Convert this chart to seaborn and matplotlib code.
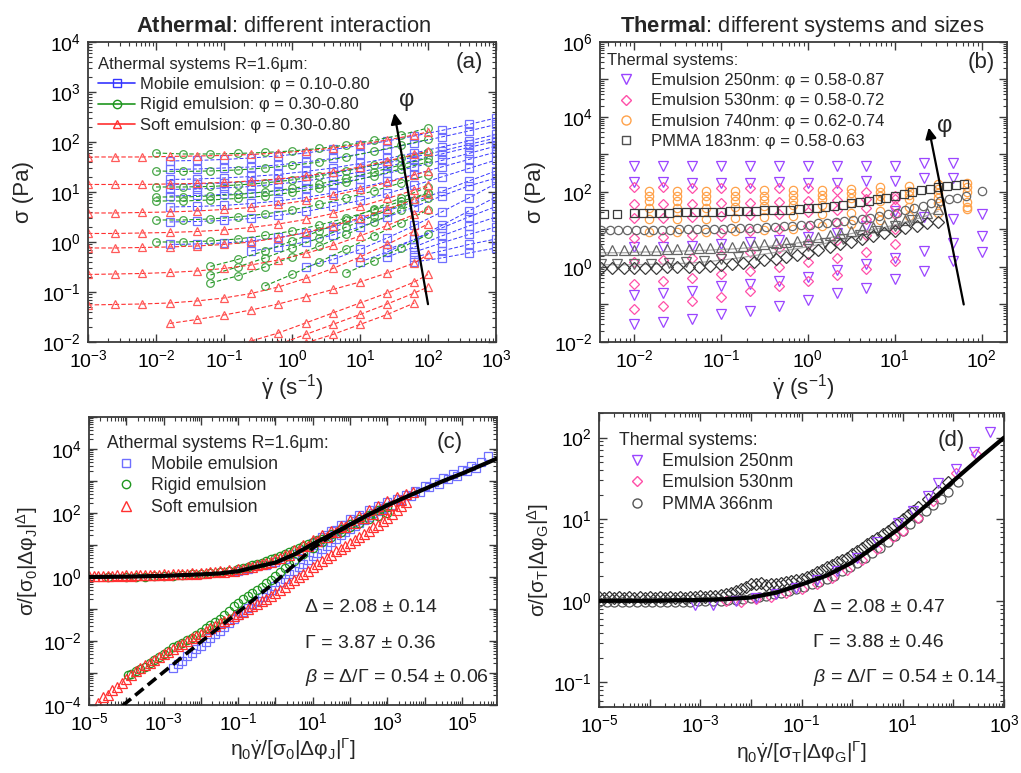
import numpy as np
import pandas as pd
import matplotlib
matplotlib.use('Agg')
import matplotlib.pyplot as plt
import matplotlib.ticker as mticker
from matplotlib.lines import Line2D
import seaborn as sns

N = np.nan

# ---------------- Panel (a): athermal flow curves (log10 values) ----------------
A_MOBILE_LOGRATE = [-1.8, -1.4, -1.0, -0.6, -0.2, 0.2, 0.6, 1.0, 1.4, 1.8, 2.2, 2.6, 3.0]
A_MOBILE_LOGSIGMA = [
    [1.62, 1.63, 1.65, 1.68, 1.72, 1.78, 1.85, 1.93, 2.02, 2.12, 2.23, 2.35, 2.48],
    [1.45, 1.46, 1.48, 1.50, 1.54, 1.60, 1.67, 1.76, 1.86, 1.98, 2.10, 2.22, 2.35],
    [1.25, 1.26, 1.28, 1.31, 1.35, 1.41, 1.48, 1.57, 1.67, 1.78, 1.90, 2.02, 2.15],
    [1.15, 1.16, 1.18, 1.21, 1.25, 1.31, 1.39, 1.48, 1.58, 1.70, 1.82, 1.95, 2.08],
    [1.05, 1.06, 1.08, 1.11, 1.16, 1.22, 1.30, 1.40, 1.51, 1.63, 1.76, 1.89, 2.02],
    [0.92, 0.93, 0.95, 0.98, 1.02, 1.08, 1.16, 1.26, 1.37, 1.50, 1.63, 1.77, 1.92],
    [0.70, 0.71, 0.73, 0.77, 0.82, 0.89, 0.98, 1.09, 1.21, 1.35, 1.50, 1.65, 1.80],
    [0.40, 0.41, 0.43, 0.47, 0.53, 0.61, 0.71, 0.83, 0.97, 1.13, 1.30, 1.47, 1.64],
    [-0.05, -0.04, -0.02, 0.02, 0.09, 0.18, 0.30, 0.45, 0.62, 0.81, 1.01, 1.22, 1.42],
    [N, N, N, -0.18, -0.10, 0.00, 0.14, 0.30, 0.50, 0.70, 0.92, 1.12, 1.28],
    [N, N, N, N, N, -0.50, -0.35, -0.15, 0.08, 0.33, 0.60, 0.88, 1.17],
    [N, N, N, N, N, N, N, -0.40, -0.20, 0.05, 0.33, 0.62, 0.90],
    [N, N, N, N, N, N, N, N, N, -0.40, -0.32, -0.22, -0.12],
    [N, N, N, N, N, N, N, N, N, -0.30, -0.18, -0.05, 0.06],
    [N, N, N, N, N, N, N, N, N, -0.20, -0.02, 0.15, 0.30],
    [N, N, N, N, N, N, N, N, -0.30, -0.10, 0.12, 0.32, 0.50],
    [N, N, N, N, N, N, N, N, -0.15, 0.05, 0.28, 0.50, 0.71],
]
A_RIGID_LOGRATE = [-2.0, -1.6, -1.2, -0.8, -0.4, 0.0, 0.4, 0.8, 1.2, 1.6, 2.0]
A_RIGID_LOGSIGMA = [
    [1.78, 1.76, 1.76, 1.77, 1.79, 1.82, 1.87, 1.94, 2.03, 2.14, 2.28],
    [1.42, 1.41, 1.42, 1.44, 1.48, 1.53, 1.60, 1.70, 1.81, 1.93, 2.05],
    [1.10, 1.10, 1.11, 1.14, 1.18, 1.24, 1.32, 1.42, 1.54, 1.67, 1.80],
    [0.90, 0.90, 0.92, 0.95, 1.00, 1.07, 1.16, 1.27, 1.40, 1.54, 1.68],
    [0.82, 0.82, 0.84, 0.87, 0.92, 0.99, 1.08, 1.19, 1.32, 1.46, 1.60],
    [0.44, 0.44, 0.46, 0.50, 0.56, 0.64, 0.75, 0.88, 1.02, 1.18, 1.34],
    [0.00, 0.00, 0.02, 0.06, 0.13, 0.22, 0.34, 0.48, 0.64, 0.81, 0.98],
    [N, N, -0.49, -0.35, -0.18, 0.02, 0.22, 0.44, 0.66, 0.88, 1.10],
    [N, N, -0.66, -0.50, -0.32, -0.12, 0.08, 0.30, 0.52, 0.75, 0.98],
    [N, N, -0.82, -0.68, -0.50, -0.30, -0.08, 0.15, 0.40, 0.64, 0.88],
    [N, N, N, N, -0.88, -0.65, -0.40, -0.14, 0.12, 0.38, 0.64],
    [N, N, N, N, N, N, N, -0.62, -0.38, -0.12, 0.15],
]
A_SOFT_LOGRATE = [-3.0, -2.6, -2.2, -1.8, -1.4, -1.0, -0.6, -0.2, 0.2, 0.6, 1.0, 1.4, 1.8, 2.0]
A_SOFT_LOGSIGMA = [
    [1.70, 1.70, 1.70, 1.71, 1.72, 1.73, 1.75, 1.78, 1.82, 1.88, 1.95, 2.04, 2.14, 2.20],
    [1.15, 1.15, 1.15, 1.16, 1.17, 1.19, 1.22, 1.26, 1.32, 1.40, 1.50, 1.62, 1.75, 1.82],
    [0.58, 0.58, 0.59, 0.60, 0.62, 0.65, 0.69, 0.75, 0.83, 0.93, 1.05, 1.19, 1.34, 1.42],
    [0.17, 0.17, 0.18, 0.19, 0.21, 0.24, 0.29, 0.36, 0.45, 0.57, 0.71, 0.87, 1.04, 1.13],
    [-0.12, -0.12, -0.11, -0.10, -0.08, -0.05, 0.00, 0.08, 0.19, 0.32, 0.48, 0.66, 0.85, 0.95],
    [-0.65, -0.64, -0.63, -0.61, -0.58, -0.53, -0.46, -0.36, -0.23, -0.07, 0.12, 0.33, 0.55, 0.66],
    [-1.26, -1.25, -1.24, -1.22, -1.18, -1.12, -1.03, -0.90, -0.73, -0.53, -0.30, -0.05, 0.22, 0.36],
    [N, N, N, -1.63, -1.55, -1.46, -1.36, -1.24, -1.10, -0.95, -0.80, -0.62, -0.42, -0.25],
    [N, N, N, N, N, N, -1.98, -1.82, -1.62, -1.42, -1.22, -1.02, -0.80, -0.65],
    [N, N, N, N, N, N, N, -2.05, -1.85, -1.65, -1.45, -1.24, -1.02, -0.90],
    [N, N, N, N, N, N, N, N, -2.02, -1.85, -1.65, -1.45, -1.22, N],
]

# ---------------- Panel (b): thermal flow curves ----------------
B_E250_RATE = [0.01, 0.0215, 0.0464, 0.1, 0.215, 0.464, 1.0, 2.15, 4.64, 10.0, 21.5, 46.4, 100.0]
B_E250_LOGSIGMA = [
    [2.69, 2.69, 2.69, 2.69, 2.69, 2.69, 2.69, 2.69, 2.69, 2.70, 2.76, 2.76, N],
    [2.27, 2.26, 2.24, 2.25, 2.24, 2.26, 2.25, 2.25, 2.28, 2.30, 2.36, 2.38, N],
    [0.52, 0.52, 0.55, 0.60, 0.66, 0.72, 0.80, 0.90, 1.10, 1.50, 1.32, 1.27, 1.42],
    [-0.76, -0.70, -0.64, -0.51, -0.46, -0.37, -0.27, -0.08, 0.07, 0.25, 0.43, 0.63, 0.83],
    [-1.53, -1.47, -1.40, -1.26, -1.17, -1.04, -0.88, -0.70, -0.55, -0.33, -0.11, 0.16, 0.40],
]
B_E530_RATE = [0.01, 0.0215, 0.0464, 0.1, 0.215, 0.464, 1.0, 2.15, 4.64, 10.0]
B_E530_LOGSIGMA = [
    [2.12, 2.12, 2.11, 2.10, 2.10, 2.10, 2.10, 2.06, 2.00, 1.90],
    [1.67, 1.68, 1.68, 1.70, 1.70, 1.72, 1.75, 1.78, 1.80, 1.80],
    [1.30, 1.30, 1.32, 1.35, 1.38, 1.42, 1.46, 1.52, 1.57, 1.62],
    [0.78, 0.80, 0.85, 0.90, 0.95, 1.00, 1.08, 1.18, 1.28, 1.40],
    [0.12, 0.18, 0.25, 0.32, 0.40, 0.50, 0.60, 0.72, 0.85, 1.00],
    [-0.46, -0.38, -0.30, -0.20, -0.10, 0.00, 0.12, 0.25, 0.40, 0.60],
    [-1.13, -1.04, -0.92, -0.80, -0.65, -0.52, -0.38, -0.22, -0.05, 0.15],
]
B_E740_RATE = [0.0147, 0.0316, 0.0681, 0.147, 0.316, 0.681, 1.47, 3.16, 6.81, 14.7, 31.6, 68.1]
B_E740_LOGSIGMA = [
    [2.03, 2.03, 2.03, 2.03, 2.04, 2.05, 2.06, 2.08, 2.12, 2.16, 2.20, 2.25],
    [1.90, 1.90, 1.90, 1.90, 1.90, 1.92, 1.93, 1.96, 2.00, 2.03, 2.07, 2.12],
    [1.76, 1.76, 1.76, 1.77, 1.78, 1.79, 1.80, 1.84, 1.88, 1.92, 1.96, 2.00],
    [1.58, 1.58, 1.58, 1.60, 1.62, 1.64, 1.66, 1.70, 1.76, 1.80, 1.84, 1.72],
    [1.27, 1.27, 1.28, 1.30, 1.32, 1.35, 1.40, 1.45, 1.50, 1.60, 1.70, 1.60],
    [0.92, 0.92, 0.93, 0.95, 0.98, 1.02, 1.08, 1.15, 1.25, 1.35, 1.45, 1.54],
]
B_PMMA_SQ_LOGRATE = [-2.34, -2.19, -2.0, -1.9, -1.8, -1.7, -1.6, -1.5, -1.4, -1.3, -1.2, -1.1, -1.0,
                     -0.9, -0.8, -0.7, -0.6, -0.5, -0.4, -0.3, -0.2, -0.1, 0.0, 0.1, 0.2, 0.3, 0.4,
                     0.5, 0.6, 0.7, 0.8, 0.9, 1.0, 1.1, 1.2, 1.3, 1.4, 1.5, 1.6, 1.7, 1.8]
B_PMMA_SQ_LOGSIGMA = [1.42, 1.42, 1.45, 1.45, 1.45, 1.45, 1.45, 1.46, 1.46, 1.46, 1.46, 1.47, 1.47,
                      1.48, 1.48, 1.49, 1.50, 1.51, 1.52, 1.52, 1.53, 1.55, 1.56, 1.58, 1.60, 1.63,
                      1.66, 1.70, 1.73, 1.76, 1.80, 1.85, 1.90, 1.95, 2.00, 2.04, 2.08, 2.12, 2.16,
                      2.19, 2.22]
B_PMMA_CI_LOGRATE = [-2.38, -2.28, -2.18, -2.08, -1.98, -1.88, -1.78, -1.68, -1.58, -1.48, -1.38,
                     -1.28, -1.18, -1.08, -0.98, -0.88, -0.78, -0.68, -0.58, -0.48, -0.38, -0.28,
                     -0.18, -0.08, 0.02, 0.12, 0.22, 0.32, 0.42, 0.52, 0.62, 0.72, 0.82, 0.92,
                     1.02, 1.12, 1.22, 1.32, 1.42, 1.52, 1.62, 1.72, 1.82, 2.0]
B_PMMA_CI_LOGSIGMA = [0.98, 0.98, 0.98, 0.98, 0.98, 0.98, 0.98, 0.99, 0.99, 1.00, 1.00, 1.01, 1.01,
                      1.02, 1.02, 1.03, 1.04, 1.05, 1.05, 1.06, 1.07, 1.09, 1.10, 1.12, 1.13, 1.16,
                      1.18, 1.20, 1.23, 1.25, 1.28, 1.31, 1.35, 1.40, 1.45, 1.51, 1.57, 1.63, 1.70,
                      1.75, 1.80, 1.85, 1.90, 2.03]
B_PMMA_TR_LOGRATE = [-2.38, -2.25, -2.12, -2.0, -1.87, -1.75, -1.62, -1.5, -1.37, -1.25, -1.12,
                     -1.0, -0.87, -0.75, -0.62, -0.5, -0.37, -0.25, -0.12, 0.0, 0.12, 0.25, 0.37,
                     0.5, 0.62, 0.75, 0.87, 1.0, 1.12, 1.25, 1.37, 1.5]
B_PMMA_TR_LOGSIGMA = [0.44, 0.44, 0.44, 0.45, 0.46, 0.46, 0.47, 0.48, 0.49, 0.50, 0.51, 0.53, 0.54,
                      0.56, 0.58, 0.60, 0.63, 0.66, 0.70, 0.74, 0.79, 0.84, 0.90, 0.95, 1.01, 1.06,
                      1.11, 1.18, 1.26, 1.34, 1.43, 1.55]
B_PMMA_DT_LOGRATE = [-2.38, -2.2, -2.0, -1.8, -1.6, -1.4, -1.2, -1.0, -0.8, -0.6, -0.4, -0.2,
                     0.0, 0.2, 0.4, 0.6, 0.8, 1.0, 1.2]
B_PMMA_DT_LOGSIGMA = [0.08, 0.08, 0.08, 0.09, 0.10, 0.12, 0.15, 0.20, 0.26, 0.33, 0.40, 0.48,
                      0.56, 0.65, 0.75, 0.85, 0.95, 1.10, 1.25]
B_PMMA_DI_LOGRATE = [-2.38, -2.25, -2.12, -2.0, -1.87, -1.75, -1.62, -1.5, -1.37, -1.25, -1.12,
                     -1.0, -0.87, -0.75, -0.62, -0.5, -0.37, -0.25, -0.12, 0.0, 0.12, 0.25, 0.37,
                     0.5, 0.62, 0.75, 0.87, 1.0, 1.12, 1.25, 1.37, 1.5]
B_PMMA_DI_LOGSIGMA = [-0.02, -0.02, -0.02, -0.02, -0.02, -0.02, -0.01, -0.01, 0.00, 0.01, 0.02,
                      0.05, 0.08, 0.11, 0.14, 0.18, 0.22, 0.27, 0.32, 0.38, 0.45, 0.52, 0.60,
                      0.67, 0.75, 0.83, 0.90, 0.97, 1.04, 1.10, 1.16, 1.21]

# ---------------- Panel (c): athermal master curve (log10 values) ----------------
C_FIT_UP_LOGX = [-5, -4, -3, -2, -1.5, -1, -0.5, 0, 0.5, 1, 1.5, 2, 2.5, 3, 3.5, 4, 4.5, 5, 5.5, 5.94]
C_FIT_UP_LOGY = [0.0, 0.01, 0.035, 0.08, 0.11, 0.18, 0.32, 0.45, 0.70, 1.03, 1.33, 1.64, 1.95,
                 2.24, 2.50, 2.75, 3.00, 3.23, 3.48, 3.70]
C_FIT_LO_LOGX = [-4.1, -3, -2, -1, 0, 1, 1.5, 2, 2.3]
C_FIT_LO_LOGY = [-4.02, -2.97, -2.03, -1.10, -0.15, 0.90, 1.30, 1.62, 1.82]

C_SOFT_UP_LOGX = [-5, -4.75, -4.5, -4.25, -4, -3.75, -3.5, -3.25, -3, -2.75, -2.5, -2.25, -2, -1.75,
                  -1.5, -1.25, -1, -0.75, -0.5, -0.25, 0, 0.25, 0.5, 0.75, 1, 1.25, 1.5, 1.75,
                  2, 2.25, 2.5, 2.75, 3, 3.25, 3.5, 3.7]
C_SOFT_UP_LOGY = [0.04, 0.03, 0.04, 0.05, 0.05, 0.06, 0.06, 0.07, 0.08, 0.09, 0.10, 0.11, 0.13, 0.15,
                  0.18, 0.21, 0.25, 0.30, 0.37, 0.45, 0.55, 0.70, 0.85, 1.00, 1.15, 1.30, 1.45, 1.60,
                  1.78, 1.92, 2.08, 2.22, 2.36, 2.50, 2.60, 2.65]
C_SOFT_UP2_LOGX = [-4.875, -4.625, -4.375, -4.125, -3.875, -3.625, -3.375, -3.125, -2.875, -2.625,
                   -2.375, -2.125, -1.875, -1.625, -1.375, -1.125, -0.875, -0.625, -0.375, -0.125,
                   0.125, 0.375, 0.625, 0.875, 1.125, 1.375, 1.625, 1.875, 2.125, 2.375, 2.625,
                   2.875, 3.125, 3.375]
C_SOFT_UP2_LOGY = [0.02, 0.03, 0.02, 0.04, 0.03, 0.05, 0.05, 0.06, 0.07, 0.08, 0.09, 0.10, 0.12,
                   0.14, 0.16, 0.20, 0.25, 0.32, 0.40, 0.48, 0.58, 0.70, 0.84, 0.98, 1.12, 1.26,
                   1.40, 1.55, 1.70, 1.84, 1.98, 2.12, 2.26, 2.40]
C_RIGID_UP_LOGX = [-4, -3.5, -3, -2.5, -2, -1.5, -1, -0.75, -0.5, -0.25, 0, 0.25, 0.5, 0.75, 1.0,
                   1.25, 1.5, 2, 2.5, 3]
C_RIGID_UP_LOGY = [0.0, 0.01, 0.03, 0.06, 0.10, 0.15, 0.25, 0.32, 0.40, 0.50, 0.60, 0.72, 0.85,
                   0.98, 1.10, 1.20, 1.35, 1.65, 1.95, 2.20]
C_RIGID_UP2_LOGX = [-4.5, -3.75, -3.25, -2.75, -2.25, -1.75, -1.25, -0.875, -0.625, -0.375, -0.125,
                    0.125, 0.375, 0.625, 0.875, 1.125, 1.75, 2.25, 2.75]
C_RIGID_UP2_LOGY = [0.0, 0.0, 0.02, 0.04, 0.08, 0.12, 0.20, 0.28, 0.36, 0.45, 0.55, 0.66, 0.78,
                    0.92, 1.04, 1.15, 1.50, 1.80, 2.08]
C_MOBILE_UP_LOGX = [-1, -0.5, 0, 0.5, 1, 1.25, 1.5, 1.75, 2, 2.25, 2.5, 2.75, 3, 3.25, 3.5, 3.75,
                    4, 4.25, 4.5, 4.75, 5, 5.25, 5.5, 5.7]
C_MOBILE_UP_LOGY = [0.20, 0.33, 0.48, 0.72, 1.05, 1.25, 1.45, 1.62, 1.80, 1.95, 2.08, 2.22, 2.35,
                    2.45, 2.55, 2.70, 2.85, 2.97, 3.10, 3.22, 3.35, 3.48, 3.60, 3.78]
C_MOBILE_UP2_LOGX = [-0.75, -0.25, 0.25, 0.75, 1.125, 1.375, 1.625, 1.875, 2.125, 2.375, 2.625,
                     2.875, 3.125, 3.375, 3.625, 3.875, 4.125, 4.375, 4.625, 4.875, 5.125, 5.375]
C_MOBILE_UP2_LOGY = [0.24, 0.36, 0.55, 0.84, 1.12, 1.30, 1.48, 1.62, 1.74, 1.86, 2.00, 2.14, 2.26,
                     2.40, 2.52, 2.66, 2.80, 2.92, 3.05, 3.17, 3.30, 3.42]
C_RIGID_LO_LOGX = [-3.95, -3.75, -3.5, -3.25, -3.0, -2.75, -2.5, -2.25, -2.0, -1.75, -1.5, -1.25,
                   -1.0, -0.75, -0.5, -0.25, 0.0, 0.25, 0.5, 0.75, 1.0, 1.25, 1.5, 1.75, 2.0,
                   2.25, 2.5, 2.75, 3.0]
C_RIGID_LO_LOGY = [-3.06, -2.95, -2.80, -2.60, -2.40, -2.20, -2.05, -1.90, -1.72, -1.50, -1.30,
                   -1.05, -0.80, -0.60, -0.40, -0.20, 0.02, 0.28, 0.50, 0.72, 0.92, 1.10, 1.25,
                   1.40, 1.55, 1.70, 1.80, 1.90, 2.00]
C_RIGID_LO2_LOGX = [-3.875, -3.625, -3.375, -3.125, -2.875, -2.625, -2.375, -2.125, -1.875, -1.625,
                    -1.375, -1.125, -0.875, -0.625, -0.375, -0.125, 0.125, 0.375]
C_RIGID_LO2_LOGY = [-3.02, -2.88, -2.70, -2.50, -2.30, -2.12, -1.98, -1.82, -1.60, -1.40, -1.18,
                    -0.92, -0.70, -0.50, -0.30, -0.10, 0.15, 0.40]
C_SOFT_LO_LOGX = [-4.75, -4.5, -4.25, -4.0, -3.75, -3.5, -3.25, -3.0, -2.75, -2.5, -2.25, -2.0,
                  -1.75, -1.5, -1.25, -1.0, -0.75, -0.5, -0.25, 0, 0.25, 0.5, 0.75, 1.0, 1.25,
                  1.5, 1.75, 2.0, 2.25, 2.5, 2.75, 3.0, 3.25, 3.5]
C_SOFT_LO_LOGY = [-3.95, -3.70, -3.45, -3.20, -2.95, -2.75, -2.60, -2.42, -2.25, -2.08, -1.92,
                  -1.78, -1.60, -1.45, -1.30, -1.15, -1.00, -0.85, -0.68, -0.50, -0.30, -0.10,
                  0.10, 0.30, 0.50, 0.70, 0.88, 1.05, 1.25, 1.45, 1.62, 1.85, 2.10, 2.35]
C_SOFT_LO2_LOGX = [-4.625, -4.375, -4.125, -3.875, -3.625, -3.375, -3.125, -2.875, -2.625, -2.375,
                   -2.125, -1.875, -1.625, -1.375, -1.125, -0.875, -0.625, -0.375, -0.125, 0.125,
                   0.375, 0.625, 0.875, 1.125, 1.375, 1.625, 1.875, 2.125, 2.375, 2.625, 2.875,
                   3.125, 3.375]
C_SOFT_LO2_LOGY = [-3.75, -3.52, -3.30, -3.05, -2.85, -2.68, -2.50, -2.33, -2.17, -2.00, -1.85,
                   -1.68, -1.52, -1.38, -1.22, -1.08, -0.92, -0.76, -0.60, -0.40, -0.20, 0.00,
                   0.20, 0.40, 0.60, 0.80, 0.97, 1.15, 1.35, 1.55, 1.75, 1.98, 2.22]
C_MOBILE_LO_LOGX = [-2.75, -2.5, -2.25, -2.0, -1.75, -1.5, -1.25, -1.0, -0.75, -0.5, -0.25, 0,
                    0.25, 0.5, 0.75, 1.0, 1.25, 1.5, 1.75, 2.0, 2.25, 2.5, 2.75, 3.0]
C_MOBILE_LO_LOGY = [-2.85, -2.62, -2.38, -2.15, -1.92, -1.68, -1.45, -1.20, -0.98, -0.75, -0.50,
                    -0.28, -0.05, 0.20, 0.42, 0.65, 0.88, 1.10, 1.30, 1.50, 1.70, 1.88, 2.05, 2.20]
C_MOBILE_LO2_LOGX = [-2.625, -2.375, -2.125, -1.875, -1.625, -1.375, -1.125, -0.875, -0.625, -0.375,
                     -0.125, 0.125, 0.375, 0.625, 0.875, 1.125, 1.375, 1.625, 1.875, 2.125, 2.375,
                     2.625, 2.875]
C_MOBILE_LO2_LOGY = [-2.72, -2.48, -2.25, -2.02, -1.78, -1.55, -1.32, -1.08, -0.85, -0.62, -0.40,
                     -0.15, 0.08, 0.30, 0.52, 0.75, 0.98, 1.20, 1.40, 1.60, 1.78, 1.95, 2.12]

# ---------------- Panel (d): thermal master curve (log10 values) ----------------
D_FIT_LOGX = [-5, -4, -3, -2.5, -2, -1.5, -1, -0.5, 0, 0.5, 1, 1.5, 2, 2.5, 3]
D_FIT_LOGY = [0.0, 0.0, 0.01, 0.02, 0.04, 0.10, 0.20, 0.31, 0.47, 0.69, 0.92, 1.19, 1.47, 1.74, 2.0]
D_E250_LOGX = [-3.1, -2.75, -2.3, -1.9, -1.5, -1.1, -0.7, -0.3, 0.1, 0.5, 0.9, 1.2, 1.5, 1.7,
               2.05, 2.4, 2.72]
D_E250_LOGY = [-0.05, -0.05, 0.0, 0.03, 0.08, 0.16, 0.26, 0.37, 0.52, 0.72, 0.95, 1.10, 1.28,
               1.44, 1.62, 1.82, 2.07]
D_E530_LOGX = [-2.5, -2.2, -1.9, -1.6, -1.3, -1.0, -0.7, -0.4, -0.1, 0.2, 0.5, 0.8, 1.0, 1.3,
               1.6, 2.05, 2.45]
D_E530_LOGY = [0.0, -0.02, 0.02, 0.05, 0.09, 0.14, 0.20, 0.28, 0.38, 0.50, 0.63, 0.78, 0.86,
               1.02, 1.22, 1.57, 1.80]
D_PMMA_CI_LOGX = [-5, -4.7, -4.4, -4.1, -3.8, -3.5, -3.2, -2.9, -2.6, -2.3, -2.0, -1.7, -1.4,
                  -1.1, -0.8, -0.5, -0.2, 0.1, 0.4, 0.7, 1.0, 1.3, 1.6, 1.9, 2.1]
D_PMMA_CI_LOGY = [-0.02, -0.02, -0.02, -0.02, -0.02, -0.02, -0.01, 0.0, 0.0, 0.01, 0.04, 0.06,
                  0.10, 0.15, 0.20, 0.27, 0.36, 0.46, 0.58, 0.72, 0.86, 1.02, 1.17, 1.33, 1.45]
D_PMMA_CI2_LOGX = [-4.85, -4.55, -4.25, -3.95, -3.65, -3.35, -3.05, -2.75, -2.45, -2.15, -1.85,
                   -1.55, -1.25, -0.95, -0.65, -0.35, -0.05, 0.25, 0.55, 0.85, 1.15, 1.45, 1.75]
D_PMMA_CI2_LOGY = [-0.01, -0.01, -0.01, -0.01, -0.01, -0.01, 0.0, 0.0, 0.01, 0.02, 0.05, 0.08,
                   0.12, 0.17, 0.23, 0.31, 0.41, 0.52, 0.65, 0.79, 0.94, 1.10, 1.25]
D_PMMA_DI_LOGX = [-5, -4.8, -4.6, -4.4, -4.2, -4.0, -3.8, -3.6, -3.4, -3.2, -3.0, -2.8, -2.6,
                  -2.4, -2.2, -2.0, -1.8, -1.6, -1.4, -1.2, -1.0, -0.8, -0.6, -0.4, -0.2, 0.0,
                  0.2, 0.4, 0.6, 0.8, 1.0, 1.2]
D_PMMA_DI_LOGY = [0.05, 0.05, 0.05, 0.05, 0.05, 0.05, 0.05, 0.05, 0.05, 0.05, 0.06, 0.06, 0.07,
                  0.10, 0.15, 0.20, 0.22, 0.20, 0.22, 0.24, 0.27, 0.32, 0.38, 0.44, 0.50, 0.57,
                  0.65, 0.73, 0.82, 0.90, 1.00, 1.10]
D_PMMA_DI2_LOGX = [-4.9, -4.7, -4.5, -4.3, -4.1, -3.9, -3.7, -3.5, -3.3, -3.1, -2.9, -2.7, -2.5,
                   -2.3, -2.1, -1.9, -1.7, -1.5, -1.3, -1.1, -0.9, -0.7, -0.5, -0.3, -0.1, 0.1,
                   0.3, 0.5, 0.7, 0.9, 1.1, 1.3, 1.5, 1.7, 1.9]
D_PMMA_DI2_LOGY = [0.04, 0.04, 0.04, 0.04, 0.04, 0.04, 0.04, 0.04, 0.04, 0.05, 0.05, 0.06, 0.08,
                   0.12, 0.17, 0.21, 0.19, 0.21, 0.23, 0.25, 0.29, 0.35, 0.41, 0.47, 0.53, 0.61,
                   0.69, 0.77, 0.86, 0.95, 1.05, 1.15, 1.25, 1.35, 1.45]

# ---------------- style ----------------
sns.set_theme(style='ticks')
plt.rcParams['font.family'] = ['Liberation Sans', 'DejaVu Sans']
plt.rcParams['mathtext.fontset'] = 'custom'
plt.rcParams['mathtext.rm'] = 'Liberation Sans'
plt.rcParams['mathtext.it'] = 'Liberation Sans:italic'
plt.rcParams['mathtext.bf'] = 'Liberation Sans:bold'
plt.rcParams['mathtext.default'] = 'regular'

BLUE, BLUE_L = '#3535ff', '#6f6fff'
GREEN, GREEN_L = '#1f961f', '#4aa84a'
RED, RED_L = '#ff3030', '#ff5a5a'
VIOLET, PINK, ORANGE, GRAY = '#9b45ff', '#ff4fa8', '#ffa24a', '#505050'


def draw(ax, x, y, color, marker, ms, ls='none', lw=0.8, mec=None, mew=0.9, zorder=2):
    d = pd.DataFrame({'x': np.asarray(x, float), 'y': np.asarray(y, float)}).dropna()
    sns.lineplot(data=d, x='x', y='y', ax=ax, color=color, marker=marker, markersize=ms,
                 markerfacecolor='none', markeredgecolor=mec or color, markeredgewidth=mew,
                 linestyle=ls, linewidth=lw, estimator=None, sort=False, errorbar=None,
                 legend=False, zorder=zorder)


def pw(v):
    return 10.0 ** np.asarray(v, float)


def decade_formatter(keep):
    def f(v, pos):
        e = int(round(np.log10(v)))
        return r'$\mathdefault{10^{%d}}$' % e if keep(e) else ''
    return mticker.FuncFormatter(f)


def style_axis(ax, xlim, ylim, xkeep, ykeep):
    ax.set_xlim(*xlim)
    ax.set_ylim(*ylim)
    for axis, keep in ((ax.xaxis, xkeep), (ax.yaxis, ykeep)):
        axis.set_major_locator(mticker.LogLocator(base=10, numticks=100))
        axis.set_minor_locator(mticker.LogLocator(base=10, subs=np.arange(2, 10), numticks=100))
        axis.set_major_formatter(decade_formatter(keep))
        axis.set_minor_formatter(mticker.NullFormatter())
    ax.tick_params(which='both', direction='in', top=True, right=True, colors='#3a3a3a',
                   labelcolor='black')
    ax.tick_params(which='major', length=6, width=1.0, labelsize=14, pad=5)
    ax.tick_params(which='minor', length=3, width=0.8)
    for s in ax.spines.values():
        s.set_linewidth(1.3)
        s.set_color('#3a3a3a')
    ax.grid(False)


def legend(ax, handles, labels, title, anchor, fs, hl, tp, ls):
    ax.legend(handles, labels, title=title, loc='upper left', bbox_to_anchor=anchor,
              frameon=False, fontsize=fs, title_fontsize=fs, alignment='left',
              handlelength=hl, handletextpad=tp, labelspacing=ls, borderpad=0.2, borderaxespad=0)


fig = plt.figure(figsize=(10.21, 7.73), dpi=100)
axA = fig.add_axes([0.0862, 0.5576, 0.3996, 0.3881])
axB = fig.add_axes([0.5877, 0.5576, 0.3986, 0.3881])
axC = fig.add_axes([0.0872, 0.0880, 0.3996, 0.3726])
axD = fig.add_axes([0.5867, 0.0854, 0.3967, 0.3803])
for ax in (axA, axB, axC, axD):
    ax.set_xscale('log')
    ax.set_yscale('log')

DASH = (0, (4, 2))

# ---- (a)
for curve in A_MOBILE_LOGSIGMA:
    draw(axA, pw(A_MOBILE_LOGRATE), pw(curve), BLUE, 's', 5.2, ls=DASH, lw=0.7, mec=BLUE_L)
for curve in A_RIGID_LOGSIGMA:
    draw(axA, pw(A_RIGID_LOGRATE), pw(curve), GREEN, 'o', 5.5, ls=DASH, lw=0.8, mec=GREEN_L)
for curve in A_SOFT_LOGSIGMA:
    draw(axA, pw(A_SOFT_LOGRATE), pw(curve), RED, '^', 6.0, ls=DASH, lw=0.8, mec=RED_L)

axA.annotate('', xy=(32, 380), xytext=(100, 0.057),
             arrowprops=dict(arrowstyle='-|>', color='black', lw=1.6, mutation_scale=16,
                             shrinkA=0, shrinkB=0))
axA.text(48, 690, 'φ', fontsize=17, ha='center', va='center')
style_axis(axA, (1e-3, 1e3), (1e-2, 1e4), lambda e: True, lambda e: True)
axA.set_xlabel(r'$\dot{\gamma}$ (s$^{-1}$)', fontsize=16, labelpad=1)
axA.set_ylabel('σ (Pa)', fontsize=16, labelpad=6)
axA.set_title(r'$\mathbf{Athermal}$: different interaction', fontsize=15.8, pad=7, x=0.48)
axA.text(0.968, 0.93, '(a)', transform=axA.transAxes, fontsize=16, ha='right', va='center')
hA = [Line2D([], [], color=BLUE, marker='s', mfc='none', mec=BLUE, lw=1.2, ms=6),
      Line2D([], [], color=GREEN, marker='o', mfc='none', mec=GREEN, lw=1.2, ms=6),
      Line2D([], [], color=RED, marker='^', mfc='none', mec=RED, lw=1.2, ms=6)]
legend(axA, hA, ['Mobile emulsion: φ = 0.10-0.80', 'Rigid emulsion: φ = 0.30-0.80',
                 'Soft emulsion: φ = 0.30-0.80'], 'Athermal systems R=1.6μm:',
       (0.0175, 0.962), 12, 2.2, 0.3, 0.32)

# ---- (b)
for curve in B_E250_LOGSIGMA:
    draw(axB, B_E250_RATE, pw(curve), VIOLET, 'v', 6.5)
for curve in B_E530_LOGSIGMA:
    draw(axB, B_E530_RATE, pw(curve), PINK, 'D', 5.0)
for curve in B_E740_LOGSIGMA:
    draw(axB, B_E740_RATE, pw(curve), ORANGE, 'o', 6.0)
draw(axB, pw(B_PMMA_TR_LOGRATE), pw(np.asarray(B_PMMA_TR_LOGSIGMA) - 0.06), '#aaaaaa', None, 0,
     ls='-', lw=0.9)
draw(axB, pw(B_PMMA_DT_LOGRATE), pw(np.asarray(B_PMMA_DT_LOGSIGMA) - 0.02), '#aaaaaa', None, 0,
     ls='-', lw=0.9)
draw(axB, pw(B_PMMA_SQ_LOGRATE), pw(B_PMMA_SQ_LOGSIGMA), '#3a3a3a', 's', 5.5)
draw(axB, pw(B_PMMA_CI_LOGRATE), pw(B_PMMA_CI_LOGSIGMA), '#666666', 'o', 6.0)
draw(axB, pw(B_PMMA_TR_LOGRATE), pw(B_PMMA_TR_LOGSIGMA), '#666666', '^', 7.0)
draw(axB, pw(B_PMMA_DT_LOGRATE), pw(B_PMMA_DT_LOGSIGMA), '#666666', 'v', 7.0)
draw(axB, pw(B_PMMA_DI_LOGRATE), pw(B_PMMA_DI_LOGSIGMA), '#3a3a3a', 'D', 6.0)
axB.annotate('', xy=(24.5, 5200), xytext=(62, 0.1),
             arrowprops=dict(arrowstyle='-|>', color='black', lw=1.6, mutation_scale=16,
                             shrinkA=0, shrinkB=0))
axB.text(37, 5750, 'φ', fontsize=17, ha='center', va='center')
style_axis(axB, (10 ** -2.39, 10 ** 2.29), (1e-2, 1e6), lambda e: True, lambda e: e % 2 == 0)
axB.set_xlabel(r'$\dot{\gamma}$ (s$^{-1}$)', fontsize=16, labelpad=1)
axB.set_ylabel('σ (Pa)', fontsize=16, labelpad=6)
axB.set_title(r'$\mathbf{Thermal}$: different systems and sizes', fontsize=15.8, pad=7, x=0.496)
axB.text(0.97, 0.933, '(b)', transform=axB.transAxes, fontsize=16, ha='right', va='center')
hB = [Line2D([], [], ls='none', marker='v', mfc='none', mec=VIOLET, ms=7),
      Line2D([], [], ls='none', marker='D', mfc='none', mec=PINK, ms=5.5),
      Line2D([], [], ls='none', marker='o', mfc='none', mec=ORANGE, ms=6.5),
      Line2D([], [], ls='none', marker='s', mfc='none', mec=GRAY, ms=6)]
legend(axB, hB, ['Emulsion 250nm: φ = 0.58-0.87', 'Emulsion 530nm: φ = 0.58-0.72',
                 'Emulsion 740nm: φ = 0.62-0.74', 'PMMA 183nm: φ = 0.58-0.63'],
       'Thermal systems:', (0.01, 0.975), 12, 2.2, 0.4, 0.32)

# ---- (c)
for lx, ly in ((C_MOBILE_LO_LOGX, C_MOBILE_LO_LOGY), (C_MOBILE_LO2_LOGX, C_MOBILE_LO2_LOGY),
               (C_MOBILE_UP_LOGX, C_MOBILE_UP_LOGY), (C_MOBILE_UP2_LOGX, C_MOBILE_UP2_LOGY)):
    draw(axC, pw(lx), pw(ly), BLUE_L, 's', 5.5)
for lx, ly in ((C_RIGID_LO_LOGX, C_RIGID_LO_LOGY), (C_RIGID_LO2_LOGX, C_RIGID_LO2_LOGY),
               (C_RIGID_UP_LOGX, C_RIGID_UP_LOGY), (C_RIGID_UP2_LOGX, C_RIGID_UP2_LOGY)):
    draw(axC, pw(lx), pw(ly), GREEN, 'o', 6.0)
for lx, ly in ((C_SOFT_LO_LOGX, C_SOFT_LO_LOGY), (C_SOFT_LO2_LOGX, C_SOFT_LO2_LOGY),
               (C_SOFT_UP_LOGX, C_SOFT_UP_LOGY), (C_SOFT_UP2_LOGX, C_SOFT_UP2_LOGY)):
    draw(axC, pw(lx), pw(ly), RED, '^', 6.5)
draw(axC, pw(C_FIT_UP_LOGX), pw(C_FIT_UP_LOGY), 'black', None, 0, ls='-', lw=3.0, zorder=4)
draw(axC, pw(C_FIT_LO_LOGX), pw(C_FIT_LO_LOGY), 'black', None, 0, ls=(0, (3, 1.5)), lw=2.6,
     zorder=4)
style_axis(axC, (1e-5, 10 ** 5.94), (1e-4, 1e5), lambda e: e % 2 != 0, lambda e: e % 2 == 0)
axC.set_xlabel(r'$\eta_0\dot{\gamma}/[\sigma_0|\Delta\varphi_J|^{\Gamma}]$', fontsize=15, labelpad=2)
axC.set_ylabel(r'$\sigma/[\sigma_0|\Delta\varphi_J|^{\Delta}]$', fontsize=15, labelpad=2)
axC.text(0.917, 0.913, '(c)', transform=axC.transAxes, fontsize=16, ha='right', va='center')
axC.text(0.53, 0.34, 'Δ = 2.08 ± 0.14', transform=axC.transAxes, fontsize=14, va='center')
axC.text(0.53, 0.215, 'Γ = 3.87 ± 0.36', transform=axC.transAxes, fontsize=14, va='center')
axC.text(0.53, 0.094, r'$\mathit{\beta}$ = Δ/Γ = 0.54 ± 0.06', transform=axC.transAxes,
         fontsize=14, va='center')
hC = [Line2D([], [], ls='none', marker='s', mfc='none', mec=BLUE_L, ms=6),
      Line2D([], [], ls='none', marker='o', mfc='none', mec=GREEN, ms=6),
      Line2D([], [], ls='none', marker='^', mfc='none', mec=RED, ms=6.5)]
legend(axC, hC, ['Mobile emulsion', 'Rigid emulsion', 'Soft emulsion'],
       'Athermal systems R=1.6μm:', (0.035, 0.951), 12.7, 2.15, 0.35, 0.25)

# ---- (d)
for lx, ly in ((D_PMMA_DI_LOGX, D_PMMA_DI_LOGY), (D_PMMA_DI2_LOGX, D_PMMA_DI2_LOGY)):
    draw(axD, pw(lx), pw(ly), '#333333', 'D', 6.0)
for lx, ly in ((D_PMMA_CI_LOGX, D_PMMA_CI_LOGY), (D_PMMA_CI2_LOGX, D_PMMA_CI2_LOGY)):
    draw(axD, pw(lx), pw(ly), '#555555', 'o', 6.5)
draw(axD, pw(D_E530_LOGX), pw(D_E530_LOGY), PINK, 'D', 5.5)
draw(axD, pw(D_E250_LOGX), pw(D_E250_LOGY), VIOLET, 'v', 7.0)
draw(axD, pw(D_FIT_LOGX), pw(D_FIT_LOGY), 'black', None, 0, ls='-', lw=3.0, zorder=4)
style_axis(axD, (1e-5, 1e3), (0.05, 200), lambda e: e % 2 != 0, lambda e: True)
axD.set_xlabel(r'$\eta_0\dot{\gamma}/[\sigma_T|\Delta\varphi_G|^{\Gamma}]$', fontsize=15, labelpad=2)
axD.set_ylabel(r'$\sigma/[\sigma_T|\Delta\varphi_G|^{\Delta}]$', fontsize=15, labelpad=2)
axD.text(0.904, 0.908, '(d)', transform=axD.transAxes, fontsize=16, ha='right', va='center')
axD.text(0.528, 0.337, 'Δ = 2.08 ± 0.47', transform=axD.transAxes, fontsize=14, va='center')
axD.text(0.528, 0.218, 'Γ = 3.88 ± 0.46', transform=axD.transAxes, fontsize=14, va='center')
axD.text(0.528, 0.099, r'$\mathit{\beta}$ = Δ/Γ = 0.54 ± 0.14', transform=axD.transAxes,
         fontsize=14, va='center')
hD = [Line2D([], [], ls='none', marker='v', mfc='none', mec=VIOLET, ms=7),
      Line2D([], [], ls='none', marker='D', mfc='none', mec=PINK, ms=5.5),
      Line2D([], [], ls='none', marker='o', mfc='none', mec='#555555', ms=6.5)]
legend(axD, hD, ['Emulsion 250nm', 'Emulsion 530nm', 'PMMA 366nm'],
       'Thermal systems:', (0.04, 0.949), 12.7, 2.05, 0.4, 0.25)

fig.savefig('out.png', dpi=100)
